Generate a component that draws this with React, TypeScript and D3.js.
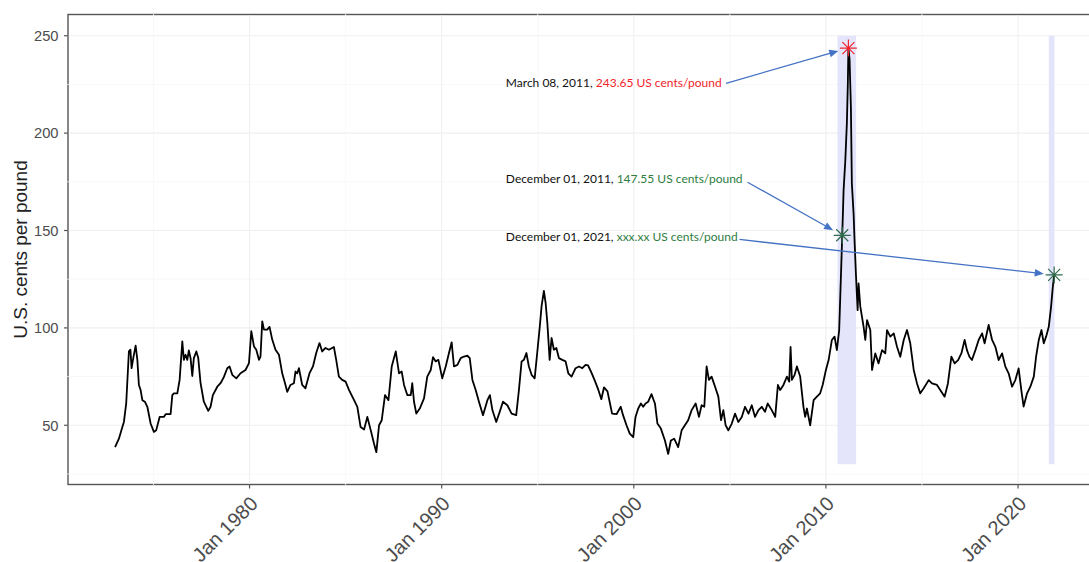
import React from "react";
import * as d3 from "d3";

// ---------- DATA (decimal year, US cents per pound) ----------
const prices1973to1985: [number, number][] = [
  [1973.0, 38.8], [1973.2, 43.1], [1973.38, 49.1], [1973.46, 51.7], [1973.58, 61.2], [1973.72, 87.9], [1973.8, 88.8],
  [1973.86, 79.3], [1973.93, 83.6], [1974.07, 90.9], [1974.16, 83.6], [1974.24, 70.7], [1974.33, 68.1], [1974.42, 62.9],
  [1974.55, 62.1], [1974.68, 59.5], [1974.85, 50.9], [1975.02, 46.6], [1975.14, 47.4], [1975.32, 54.3], [1975.54, 54.3],
  [1975.63, 55.7], [1975.89, 55.7], [1975.98, 65.5], [1976.06, 66.4], [1976.24, 66.4], [1976.36, 73.3], [1976.5, 93.1],
  [1976.58, 83.6], [1976.67, 86.2], [1976.76, 83.6], [1976.84, 88.4], [1976.93, 84.5], [1977.02, 75.3], [1977.1, 84.5],
  [1977.23, 87.9], [1977.33, 84.5], [1977.45, 71.6], [1977.62, 62.1], [1977.85, 57.4], [1977.97, 59.5], [1978.09, 65.5],
  [1978.32, 69.8], [1978.49, 71.6], [1978.66, 74.7], [1978.84, 79.3], [1978.96, 80.2], [1979.1, 75.9], [1979.31, 74.1],
  [1979.53, 76.7], [1979.79, 78.4], [1979.97, 81.9], [1980.09, 98.3], [1980.23, 90.5], [1980.35, 88.8], [1980.49, 83.6],
  [1980.57, 85.3], [1980.66, 103.4], [1980.75, 99.1], [1980.92, 99.1], [1981.04, 100.5], [1981.18, 94.0], [1981.35, 88.8],
  [1981.53, 86.2], [1981.7, 76.7], [1981.87, 70.7], [1981.96, 67.2], [1982.13, 70.7], [1982.31, 71.6], [1982.39, 77.6],
  [1982.48, 76.7], [1982.57, 79.3], [1982.74, 70.7], [1982.91, 69.0], [1983.12, 76.7], [1983.3, 80.2], [1983.47, 87.1],
  [1983.64, 92.2], [1983.78, 87.9], [1983.95, 89.7], [1984.13, 88.8], [1984.39, 90.2], [1984.51, 83.6], [1984.65, 75.0],
  [1984.82, 73.3], [1985.0, 72.4],
];

const prices1985to1997: [number, number][] = [
  [1985.18, 68.1], [1985.44, 62.9], [1985.61, 59.5], [1985.78, 49.1], [1985.96, 47.8], [1986.13, 54.3], [1986.31, 47.4],
  [1986.48, 40.5], [1986.6, 36.2], [1986.74, 50.0], [1986.88, 52.6], [1987.05, 65.5], [1987.23, 62.9], [1987.4, 80.2],
  [1987.61, 87.9], [1987.78, 76.7], [1987.92, 77.6], [1988.04, 70.7], [1988.21, 65.5], [1988.39, 65.5], [1988.47, 71.6],
  [1988.56, 62.1], [1988.68, 56.0], [1988.86, 58.6], [1989.08, 63.8], [1989.25, 75.0], [1989.43, 78.4], [1989.55, 85.0],
  [1989.69, 82.8], [1989.83, 83.6], [1990.03, 74.1], [1990.21, 80.2], [1990.38, 87.1], [1990.52, 92.6], [1990.64, 80.2],
  [1990.82, 81.0], [1990.99, 84.5], [1991.16, 85.3], [1991.34, 85.7], [1991.46, 84.5], [1991.6, 73.3], [1991.77, 68.1],
  [1991.94, 62.1], [1992.15, 55.2], [1992.38, 62.9], [1992.51, 65.5], [1992.64, 57.8], [1992.84, 51.7], [1993.02, 56.9],
  [1993.19, 62.1], [1993.42, 60.3], [1993.64, 56.0], [1993.88, 55.2], [1994.02, 68.1], [1994.16, 82.8], [1994.28, 83.6],
  [1994.41, 87.1], [1994.54, 80.2], [1994.68, 75.9], [1994.84, 74.1], [1994.98, 87.9], [1995.1, 100.0], [1995.2, 111.2],
  [1995.32, 119.0], [1995.41, 112.9], [1995.5, 102.6], [1995.62, 83.6], [1995.72, 94.8], [1995.84, 88.8], [1995.97, 89.7],
  [1996.1, 84.5], [1996.28, 83.6], [1996.45, 82.8], [1996.59, 76.7], [1996.76, 75.0], [1996.97, 79.3], [1997.15, 80.2],
  [1997.32, 79.3], [1997.49, 81.0],
];

const prices1997to2010: [number, number][] = [
  [1997.62, 80.7], [1997.79, 77.2], [1997.97, 72.9], [1998.14, 68.6], [1998.31, 63.4], [1998.45, 69.5], [1998.63, 67.4],
  [1998.75, 61.7], [1998.87, 56.0], [1999.1, 55.7], [1999.32, 59.5], [1999.44, 55.2], [1999.62, 50.0], [1999.79, 45.7],
  [1999.97, 43.9], [2000.09, 54.3], [2000.23, 58.6], [2000.37, 61.2], [2000.49, 59.5], [2000.61, 61.2], [2000.75, 62.1],
  [2000.92, 66.0], [2001.1, 61.2], [2001.23, 50.9], [2001.41, 48.3], [2001.62, 42.2], [2001.79, 35.3], [2001.93, 42.2],
  [2002.1, 43.1], [2002.31, 38.8], [2002.49, 47.4], [2002.66, 50.0], [2002.83, 52.6], [2003.01, 57.8], [2003.22, 61.2],
  [2003.39, 54.3], [2003.53, 60.3], [2003.67, 59.5], [2003.79, 80.2], [2003.91, 73.3], [2004.05, 75.0], [2004.23, 69.8],
  [2004.4, 64.7], [2004.54, 52.6], [2004.66, 57.8], [2004.78, 50.0], [2004.92, 47.4], [2005.1, 50.9], [2005.27, 56.0],
  [2005.44, 51.7], [2005.62, 54.3], [2005.79, 59.5], [2005.97, 56.0], [2006.14, 60.3], [2006.31, 54.3], [2006.49, 57.8],
  [2006.66, 59.5], [2006.83, 56.9], [2006.97, 61.2], [2007.18, 57.8], [2007.36, 54.3], [2007.5, 70.7], [2007.62, 68.1],
  [2007.79, 70.7], [2007.97, 75.0], [2008.09, 72.4], [2008.16, 90.2], [2008.23, 73.3], [2008.37, 75.9], [2008.49, 80.2],
  [2008.66, 75.0], [2008.83, 59.5], [2008.92, 54.3], [2009.01, 58.6], [2009.18, 50.0], [2009.36, 62.9], [2009.53, 64.7],
  [2009.7, 66.4], [2009.83, 70.7], [2010.0, 78.4],
];

const prices2010to2021: [number, number][] = [
  [2010.14, 83.5], [2010.31, 93.8], [2010.45, 95.5], [2010.57, 88.6], [2010.69, 98.9], [2010.85, 147.55], [2010.92, 170.7],
  [2011.01, 186.1], [2011.09, 204.9], [2011.14, 225.0], [2011.17, 243.65], [2011.23, 238.0], [2011.3, 213.4], [2011.35, 174.1],
  [2011.44, 158.7], [2011.49, 145.0], [2011.56, 128.0], [2011.65, 109.1], [2011.7, 122.8], [2011.79, 110.9], [2011.96, 100.6],
  [2012.05, 93.8], [2012.14, 104.0], [2012.31, 98.9], [2012.4, 78.4], [2012.57, 86.9], [2012.74, 81.8], [2012.92, 88.6],
  [2013.09, 86.9], [2013.18, 98.9], [2013.35, 95.5], [2013.53, 97.2], [2013.7, 90.3], [2013.87, 85.2], [2014.05, 93.8],
  [2014.22, 98.9], [2014.39, 92.1], [2014.57, 78.4], [2014.74, 71.5], [2014.91, 66.4], [2015.09, 69.0], [2015.35, 73.2],
  [2015.52, 71.5], [2015.78, 70.7], [2015.95, 68.1], [2016.18, 64.7], [2016.35, 71.5], [2016.53, 85.2], [2016.7, 81.8],
  [2016.88, 83.5], [2017.05, 86.9], [2017.22, 93.8], [2017.34, 88.6], [2017.47, 85.2], [2017.6, 83.5], [2017.78, 88.6],
  [2017.95, 93.8], [2018.13, 97.2], [2018.26, 92.1], [2018.47, 101.5], [2018.65, 93.8], [2018.82, 90.3], [2018.99, 83.5],
  [2019.17, 86.9], [2019.34, 80.1], [2019.51, 76.7], [2019.69, 69.8], [2019.86, 73.2], [2020.03, 79.2], [2020.17, 68.1],
  [2020.29, 59.6], [2020.47, 66.4], [2020.64, 69.8], [2020.82, 75.0], [2020.94, 85.2], [2021.08, 93.8], [2021.22, 98.9],
  [2021.34, 92.1], [2021.46, 95.5], [2021.6, 100.6], [2021.72, 110.9], [2021.81, 121.1], [2021.88, 127.2],
];

// highlighted periods [start, end] and their value band
const shadedPeriods: [number, number][] = [[2010.6, 2011.57], [2021.6, 2021.9]];
const shadedBand: [number, number] = [30, 250];

// highlighted points
const markedYears = [2011.17, 2010.85, 2021.88];
const markedValues = [243.65, 147.55, 127.2];

// annotation texts
const noteDates = ["March 08, 2011, ", "December 01, 2011, ", "December 01, 2021, "];
const noteValues = ["243.65 US cents/pound", "147.55 US cents/pound", "xxx.xx US cents/pound"];

// axis ticks
const yMajorTicks = [50, 100, 150, 200, 250];
const yMinorTicks = [25, 75, 125, 175, 225];
const xMajorTicks = [1980, 1990, 2000, 2010, 2020];
const xMinorTicks = [1975, 1985, 1995, 2005, 2015, 2025];
const xTickLabels = ["Jan 1980", "Jan 1990", "Jan 2000", "Jan 2010", "Jan 2020"];
const yTitle = "U.S. cents per pound";

// ---------- LAYOUT / STYLE ----------
const W = 1089;
const H = 562;
const P = { left: 68, right: 1102, top: 14.5, bottom: 484.5 };
const RED = "#f2242c";
const GREEN_TEXT = "#2f7d3f";
const GREEN_STAR = "#2e6b4a";
const ARROW = "#4472c4";
const markColors = [RED, GREEN_STAR, GREEN_STAR];
const noteColors = [RED, GREEN_TEXT, GREEN_TEXT];
// label anchor (data units) and arrow start (data units)
const noteLabelPos: [number, number][] = [[1993.34, 223.7], [1993.34, 174.4], [1993.34, 144.6]];
const noteArrowFrom: [number, number][] = [[2004.8, 225.6], [2005.92, 174.8], [2005.5, 145.4]];

export default function App() {
  const x = d3.scaleLinear().domain([1970.55, 2024.37]).range([P.left, P.right]);
  const y = d3.scaleLinear().domain([19.6, 260.9]).range([P.bottom, P.top]);

  const all = [...prices1973to1985, ...prices1985to1997, ...prices1997to2010, ...prices2010to2021];
  const line = d3
    .line<[number, number]>()
    .x((d) => x(d[0]))
    .y((d) => y(d[1]));

  const axisFont = "'Liberation Sans', Arial, Helvetica, sans-serif";
  const noteFont = "Lato, 'Open Sans', sans-serif";

  const star = (cx: number, cy: number, r: number) => {
    const d = r * Math.SQRT1_2;
    return `M${cx - r},${cy}L${cx + r},${cy}M${cx},${cy - r}L${cx},${cy + r}M${cx - d},${cy - d}L${cx + d},${cy + d}M${cx - d},${cy + d}L${cx + d},${cy - d}`;
  };

  const shaded = (k: string) =>
    shadedPeriods.map((p, i) => (
      <rect
        key={k + i}
        x={x(p[0])}
        y={y(shadedBand[1])}
        width={x(p[1]) - x(p[0])}
        height={y(shadedBand[0]) - y(shadedBand[1])}
        fill="#e4e5fb"
      />
    ));

  return (
    <svg
      width={W}
      height={H}
      style={{ position: "absolute", left: 0, top: 0, background: "#fff" }}
      xmlns="http://www.w3.org/2000/svg"
    >
      <rect x={0} y={0} width={W} height={H} fill="#fff" />

      {/* panel border */}
      <rect
        x={P.left}
        y={P.top}
        width={P.right - P.left}
        height={P.bottom - P.top}
        fill="none"
        stroke="#555"
        strokeWidth={1.4}
      />

      {/* grid lines */}
      {yMinorTicks.map((t) => (
        <line key={"ymn" + t} x1={P.left - 0.7} x2={P.right} y1={y(t)} y2={y(t)} stroke="#f6f6f6" strokeWidth={0.8} />
      ))}
      {xMinorTicks.map((t) => (
        <line key={"xmn" + t} x1={x(t)} x2={x(t)} y1={P.top - 0.7} y2={P.bottom + 0.7} stroke="#f6f6f6" strokeWidth={0.8} />
      ))}
      {yMajorTicks.map((t) => (
        <line key={"ymj" + t} x1={P.left + 0.7} x2={P.right} y1={y(t)} y2={y(t)} stroke="#efefef" strokeWidth={1.1} />
      ))}
      {xMajorTicks.map((t) => (
        <line key={"xmj" + t} x1={x(t)} x2={x(t)} y1={P.top + 0.7} y2={P.bottom - 0.7} stroke="#efefef" strokeWidth={1.1} />
      ))}

      {/* shaded periods */}
      {shaded("sh")}

      {/* price line */}
      <path d={line(all) || ""} fill="none" stroke="#000" strokeWidth={1.8} strokeLinejoin="round" />

      {/* axis ticks */}
      {yMajorTicks.map((t) => (
        <line key={"yt" + t} x1={P.left - 4} x2={P.left} y1={y(t)} y2={y(t)} stroke="#555" strokeWidth={1.2} />
      ))}
      {xMajorTicks.map((t) => (
        <line key={"xt" + t} x1={x(t)} x2={x(t)} y1={P.bottom} y2={P.bottom + 4} stroke="#555" strokeWidth={1.2} />
      ))}

      {/* y tick labels */}
      {yMajorTicks.map((t) => (
        <text
          key={"yl" + t}
          x={58.5}
          y={y(t)}
          dy="0.36em"
          textAnchor="end"
          fontFamily={axisFont}
          fontSize={14.7}
          fill="#4d4d4d"
        >
          {t}
        </text>
      ))}

      {/* x tick labels */}
      {xMajorTicks.map((t, i) => (
        <text
          key={"xl" + t}
          transform={`translate(${x(t) + 9.5},${505}) rotate(-45)`}
          textAnchor="end"
          fontFamily={axisFont}
          fontSize={20}
          fill="#4d4d4d"
        >
          {xTickLabels[i]}
        </text>
      ))}

      {/* y title */}
      <text
        transform={`translate(27,${(P.top + P.bottom) / 2}) rotate(-90)`}
        textAnchor="middle"
        fontFamily={axisFont}
        fontSize={19}
        fill="#222"
      >
        {yTitle}
      </text>

      {/* annotation arrows */}
      {markedYears.map((yr, i) => {
        const sx = x(noteArrowFrom[i][0]);
        const sy = y(noteArrowFrom[i][1]);
        const cx = x(yr);
        const cy = y(markedValues[i]);
        const dx = cx - sx;
        const dy = cy - sy;
        const len = Math.hypot(dx, dy);
        const ux = dx / len;
        const uy = dy / len;
        const tx = cx - ux * 10.5;
        const ty = cy - uy * 10.5;
        const hl = 9;
        const hw = 3.8;
        const bx = tx - ux * hl;
        const by = ty - uy * hl;
        return (
          <g key={"ar" + i}>
            <line x1={sx} y1={sy} x2={bx + ux * 1} y2={by + uy * 1} stroke={ARROW} strokeWidth={1.3} />
            <path
              d={`M${tx},${ty}L${bx - uy * hw},${by + ux * hw}L${bx + uy * hw},${by - ux * hw}Z`}
              fill={ARROW}
            />
          </g>
        );
      })}

      {/* marked points */}
      {markedYears.map((yr, i) => (
        <path
          key={"st" + i}
          d={star(x(yr), y(markedValues[i]), 8.5)}
          stroke={markColors[i]}
          strokeWidth={1.2}
          fill="none"
        />
      ))}

      {/* annotation texts */}
      {noteDates.map((d, i) => (
        <text
          key={"nt" + i}
          x={x(noteLabelPos[i][0])}
          y={y(noteLabelPos[i][1])}
          fontFamily={noteFont}
          fontSize={12}
          fill="#111"
        >
          <tspan>{d}</tspan>
          <tspan fill={noteColors[i]}>{noteValues[i]}</tspan>
        </text>
      ))}
    </svg>
  );
}
